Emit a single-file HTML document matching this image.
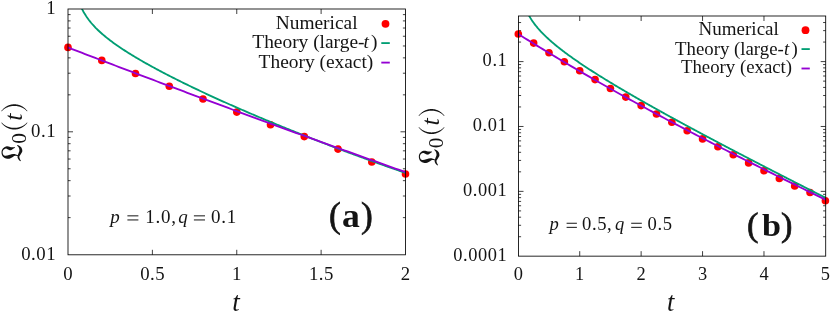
<!DOCTYPE html>
<html><head><meta charset="utf-8"><title>plot</title>
<style>
html,body{margin:0;padding:0;background:#fff;}
svg{display:block}
text{font-family:"Liberation Serif",serif;fill:#141414}
</style></head><body>
<svg width="830" height="313" viewBox="0 0 830 313" style="will-change:transform">
<rect width="830" height="313" fill="#fff"/>

<clipPath id="ca"><rect x="68.0" y="9.0" width="337.5" height="245.8"/></clipPath>
<path d="M152.38,254.8v-5M152.38,9.0v5M236.75,254.8v-5M236.75,9.0v5M321.12,254.8v-5M321.12,9.0v5M68.0,217.63h2.6M405.5,217.63h-2.6M68.0,196.01h2.6M405.5,196.01h-2.6M68.0,180.67h2.6M405.5,180.67h-2.6M68.0,168.77h2.6M405.5,168.77h-2.6M68.0,159.04h2.6M405.5,159.04h-2.6M68.0,150.82h2.6M405.5,150.82h-2.6M68.0,143.70h2.6M405.5,143.70h-2.6M68.0,137.42h2.6M405.5,137.42h-2.6M68.0,131.80h5M405.5,131.80h-5M68.0,94.83h2.6M405.5,94.83h-2.6M68.0,73.21h2.6M405.5,73.21h-2.6M68.0,57.87h2.6M405.5,57.87h-2.6M68.0,45.97h2.6M405.5,45.97h-2.6M68.0,36.24h2.6M405.5,36.24h-2.6M68.0,28.02h2.6M405.5,28.02h-2.6M68.0,20.90h2.6M405.5,20.90h-2.6M68.0,14.62h2.6M405.5,14.62h-2.6" stroke="#000" stroke-width="0.75" fill="none"/>

<g><circle cx="68" cy="47.4" r="3.8" fill="#ff0000"/><circle cx="101.8" cy="60.4" r="3.8" fill="#ff0000"/><circle cx="135.5" cy="73.5" r="3.8" fill="#ff0000"/><circle cx="169.3" cy="86.3" r="3.8" fill="#ff0000"/><circle cx="203" cy="99" r="3.8" fill="#ff0000"/><circle cx="236.8" cy="112.1" r="3.8" fill="#ff0000"/><circle cx="270.5" cy="124.7" r="3.8" fill="#ff0000"/><circle cx="304.3" cy="136.6" r="3.8" fill="#ff0000"/><circle cx="338" cy="149.1" r="3.8" fill="#ff0000"/><circle cx="371.8" cy="162.0" r="3.8" fill="#ff0000"/><circle cx="405.5" cy="174.0" r="3.8" fill="#ff0000"/></g>

<path clip-path="url(#ca)" d="M78.12,-0.81 L79.22,2.38 L80.31,5.17 L81.41,7.66 L82.50,9.90 L83.60,11.96 L84.69,13.85 L85.79,15.61 L86.88,17.25 L87.98,18.80 L89.07,20.27 L90.17,21.66 L91.26,22.99 L92.36,24.26 L93.45,25.48 L94.55,26.66 L95.64,27.80 L96.74,28.90 L97.83,29.97 L98.93,31.01 L100.02,32.02 L101.12,33.01 L102.21,33.97 L103.31,34.91 L104.40,35.83 L105.50,36.73 L106.59,37.62 L107.69,38.49 L108.78,39.34 L109.88,40.18 L110.97,41.01 L112.07,41.83 L113.16,42.63 L114.26,43.42 L115.35,44.21 L116.45,44.98 L117.54,45.74 L118.64,46.49 L119.73,47.24 L120.83,47.98 L121.92,48.71 L123.02,49.43 L124.11,50.14 L125.21,50.85 L126.30,51.55 L127.40,52.25 L128.49,52.94 L129.59,53.62 L130.68,54.30 L131.78,54.97 L132.87,55.64 L133.96,56.31 L135.06,56.96 L136.15,57.62 L137.25,58.27 L138.34,58.91 L139.44,59.55 L140.53,60.19 L141.63,60.82 L142.72,61.45 L143.82,62.08 L144.91,62.70 L146.01,63.32 L147.10,63.93 L148.20,64.55 L149.29,65.16 L150.39,65.76 L151.48,66.36 L152.58,66.96 L153.67,67.56 L154.77,68.16 L155.86,68.75 L156.96,69.34 L158.05,69.92 L159.15,70.51 L160.24,71.09 L161.34,71.67 L162.43,72.24 L163.53,72.82 L164.62,73.39 L165.72,73.96 L166.81,74.53 L167.91,75.09 L169.00,75.66 L170.10,76.22 L171.19,76.78 L172.29,77.33 L173.38,77.89 L174.48,78.44 L175.57,78.99 L176.67,79.54 L177.76,80.09 L178.86,80.64 L179.95,81.18 L181.05,81.73 L182.14,82.27 L183.24,82.81 L184.33,83.34 L185.43,83.88 L186.52,84.41 L187.61,84.95 L188.71,85.48 L189.80,86.01 L190.90,86.54 L191.99,87.07 L193.09,87.59 L194.18,88.12 L195.28,88.64 L196.37,89.16 L197.47,89.68 L198.56,90.20 L199.66,90.72 L200.75,91.23 L201.85,91.75 L202.94,92.26 L204.04,92.77 L205.13,93.28 L206.23,93.79 L207.32,94.30 L208.42,94.81 L209.51,95.32 L210.61,95.82 L211.70,96.32 L212.80,96.83 L213.89,97.33 L214.99,97.83 L216.08,98.33 L217.18,98.83 L218.27,99.32 L219.37,99.82 L220.46,100.31 L221.56,100.81 L222.65,101.30 L223.75,101.79 L224.84,102.28 L225.94,102.77 L227.03,103.26 L228.13,103.75 L229.22,104.23 L230.32,104.72 L231.41,105.21 L232.51,105.69 L233.60,106.17 L234.70,106.65 L235.79,107.13 L236.89,107.61 L237.98,108.09 L239.08,108.57 L240.17,109.05 L241.27,109.52 L242.36,110.00 L243.45,110.47 L244.55,110.95 L245.64,111.42 L246.74,111.89 L247.83,112.36 L248.93,112.83 L250.02,113.30 L251.12,113.77 L252.21,114.24 L253.31,114.70 L254.40,115.17 L255.50,115.63 L256.59,116.10 L257.69,116.56 L258.78,117.02 L259.88,117.49 L260.97,117.95 L262.07,118.41 L263.16,118.87 L264.26,119.32 L265.35,119.78 L266.45,120.24 L267.54,120.69 L268.64,121.15 L269.73,121.60 L270.83,122.06 L271.92,122.51 L273.02,122.96 L274.11,123.41 L275.21,123.86 L276.30,124.31 L277.40,124.76 L278.49,125.21 L279.59,125.66 L280.68,126.11 L281.78,126.55 L282.87,127.00 L283.97,127.44 L285.06,127.89 L286.16,128.33 L287.25,128.77 L288.35,129.22 L289.44,129.66 L290.54,130.10 L291.63,130.54 L292.73,130.98 L293.82,131.42 L294.92,131.85 L296.01,132.29 L297.10,132.73 L298.20,133.16 L299.29,133.60 L300.39,134.03 L301.48,134.47 L302.58,134.90 L303.67,135.33 L304.77,135.76 L305.86,136.19 L306.96,136.63 L308.05,137.06 L309.15,137.48 L310.24,137.91 L311.34,138.34 L312.43,138.77 L313.53,139.19 L314.62,139.62 L315.72,140.05 L316.81,140.47 L317.91,140.89 L319.00,141.32 L320.10,141.74 L321.19,142.16 L322.29,142.58 L323.38,143.00 L324.48,143.42 L325.57,143.84 L326.67,144.26 L327.76,144.68 L328.86,145.10 L329.95,145.52 L331.05,145.93 L332.14,146.35 L333.24,146.76 L334.33,147.18 L335.43,147.59 L336.52,148.01 L337.62,148.42 L338.71,148.83 L339.81,149.24 L340.90,149.65 L342.00,150.06 L343.09,150.47 L344.19,150.88 L345.28,151.29 L346.38,151.70 L347.47,152.11 L348.57,152.52 L349.66,152.92 L350.76,153.33 L351.85,153.73 L352.94,154.14 L354.04,154.54 L355.13,154.94 L356.23,155.35 L357.32,155.75 L358.42,156.15 L359.51,156.55 L360.61,156.95 L361.70,157.35 L362.80,157.75 L363.89,158.15 L364.99,158.55 L366.08,158.95 L367.18,159.35 L368.27,159.74 L369.37,160.14 L370.46,160.53 L371.56,160.93 L372.65,161.32 L373.75,161.72 L374.84,162.11 L375.94,162.50 L377.03,162.90 L378.13,163.29 L379.22,163.68 L380.32,164.07 L381.41,164.46 L382.51,164.85 L383.60,165.24 L384.70,165.63 L385.79,166.01 L386.89,166.40 L387.98,166.79 L389.08,167.17 L390.17,167.56 L391.27,167.94 L392.36,168.33 L393.46,168.71 L394.55,169.10 L395.65,169.48 L396.74,169.86 L397.84,170.24 L398.93,170.63 L400.03,171.01 L401.12,171.39 L402.22,171.77 L403.31,172.15 L404.41,172.52 L405.50,172.90" stroke="#009e73" stroke-width="1.85" fill="none" stroke-linejoin="round"/>

<path d="M68.00,47.48 L71.41,48.79 L74.82,50.10 L78.23,51.41 L81.64,52.72 L85.05,54.03 L88.45,55.34 L91.86,56.64 L95.27,57.95 L98.68,59.25 L102.09,60.56 L105.50,61.86 L108.91,63.16 L112.32,64.46 L115.73,65.76 L119.14,67.05 L122.55,68.35 L125.95,69.64 L129.36,70.94 L132.77,72.23 L136.18,73.52 L139.59,74.81 L143.00,76.10 L146.41,77.39 L149.82,78.68 L153.23,79.96 L156.64,81.25 L160.05,82.53 L163.45,83.82 L166.86,85.10 L170.27,86.38 L173.68,87.66 L177.09,88.94 L180.50,90.22 L183.91,91.49 L187.32,92.77 L190.73,94.04 L194.14,95.32 L197.55,96.59 L200.95,97.86 L204.36,99.13 L207.77,100.40 L211.18,101.67 L214.59,102.93 L218.00,104.20 L221.41,105.46 L224.82,106.73 L228.23,107.99 L231.64,109.25 L235.05,110.51 L238.45,111.77 L241.86,113.03 L245.27,114.28 L248.68,115.54 L252.09,116.80 L255.50,118.05 L258.91,119.30 L262.32,120.55 L265.73,121.80 L269.14,123.05 L272.55,124.30 L275.95,125.55 L279.36,126.79 L282.77,128.04 L286.18,129.28 L289.59,130.53 L293.00,131.77 L296.41,133.01 L299.82,134.25 L303.23,135.49 L306.64,136.72 L310.05,137.96 L313.45,139.20 L316.86,140.43 L320.27,141.66 L323.68,142.89 L327.09,144.13 L330.50,145.36 L333.91,146.58 L337.32,147.81 L340.73,149.04 L344.14,150.26 L347.55,151.49 L350.95,152.71 L354.36,153.93 L357.77,155.15 L361.18,156.37 L364.59,157.59 L368.00,158.81 L371.41,160.03 L374.82,161.24 L378.23,162.46 L381.64,163.67 L385.05,164.88 L388.45,166.09 L391.86,167.30 L395.27,168.51 L398.68,169.72 L402.09,170.93 L405.50,172.13" stroke="#9400d3" stroke-width="1.85" fill="none"/>

<rect x="68.0" y="9.0" width="337.5" height="245.8" fill="none" stroke="#000" stroke-width="0.85"/>

<g font-size="18.8" letter-spacing="0.5">
<text x="68.25" y="279.7" text-anchor="middle">0</text><text x="152.62" y="279.7" text-anchor="middle">0.5</text><text x="237.00" y="279.7" text-anchor="middle">1</text><text x="321.38" y="279.7" text-anchor="middle">1.5</text><text x="405.75" y="279.7" text-anchor="middle">2</text>
<text x="56.10" y="13.90" text-anchor="end">1</text><text x="56.10" y="136.80" text-anchor="end">0.1</text><text x="56.10" y="259.70" text-anchor="end">0.01</text>
</g>

<g font-size="19.4"><text x="275.7" y="28.7" font-size="19.4">Numerical</text><text x="252.3" y="47.8">Theory (large-</text><text x="363.6" y="47.8" font-style="italic">t</text><text x="371.0" y="47.8">)</text><text x="258.6" y="67.5">Theory (exact)</text></g>
<circle cx="385.5" cy="23.8" r="3.9" fill="#ff0000"/><path d="M381.3,43.1H389.8" stroke="#009e73" stroke-width="1.85"/><path d="M381.3,62.6H389.8" stroke="#9400d3" stroke-width="1.85"/>

<g font-size="19"><text x="110.3" y="223" font-style="italic">p</text><path d="M127.4,215.85H138.4M127.4,219.95H138.4" stroke="#141414" stroke-width="1.0" fill="none"/><text x="145.2" y="223" letter-spacing="0.8">1.0,</text><text x="178.2" y="223" font-style="italic">q</text><path d="M193.9,215.85H205.0M193.9,219.95H205.0" stroke="#141414" stroke-width="1.0" fill="none"/><text x="210.9" y="223" letter-spacing="0.8">0.1</text></g>

<g stroke="#141414" stroke-width="0.7" font-size="35.4"><text x="329.1" y="227.3">(</text><text x="360.9" y="227.3">)</text></g><text transform="translate(341.9,227) scale(1.05,1.0)" font-size="34" font-weight="bold">a</text>

<text x="232.2" y="311" font-size="27" font-style="italic">t</text>

<g transform="translate(23,161) rotate(-90) scale(1.0)" fill="#141414">
<path d="M13.89,-8.29 L13.88,-8.50 L13.88,-8.71 L13.88,-8.92 L13.87,-9.13 L13.87,-9.34 L13.87,-9.55 L13.86,-9.76 L13.86,-9.97 L13.86,-10.18 L13.86,-10.38 L13.86,-10.58 L13.86,-10.80 L13.84,-11.03 L13.81,-11.25 L13.78,-11.47 L13.76,-11.67 L13.74,-11.85 L13.74,-12.00 L13.74,-12.14 L13.77,-12.26 L13.80,-12.35 L13.84,-12.41 L13.89,-12.46 L13.95,-12.48 L13.93,-12.52 L13.94,-12.60 L13.96,-12.73 L14.00,-12.90 L14.05,-13.09 L14.13,-13.30 L14.21,-13.52 L14.29,-13.76 L14.38,-14.02 L14.46,-14.28 L14.54,-14.56 L14.60,-14.83 L14.61,-15.03 L14.62,-15.20 L14.63,-15.37 L14.64,-15.56 L14.65,-15.76 L14.66,-15.98 L14.66,-16.22 L14.64,-16.46 L14.60,-16.72 L14.55,-16.98 L14.46,-17.24 L14.36,-17.49 L14.25,-17.73 L14.12,-17.97 L13.98,-18.22 L13.83,-18.47 L13.67,-18.72 L13.49,-18.98 L13.31,-19.22 L13.11,-19.46 L12.90,-19.69 L12.69,-19.91 L12.46,-20.11 L12.23,-20.29 L12.00,-20.46 L11.77,-20.62 L11.53,-20.76 L11.28,-20.89 L11.03,-21.00 L10.77,-21.11 L10.50,-21.20 L10.24,-21.27 L9.96,-21.34 L9.69,-21.39 L9.42,-21.43 L9.15,-21.45 L8.86,-21.47 L8.57,-21.48 L8.27,-21.47 L7.97,-21.45 L7.67,-21.41 L7.36,-21.36 L7.06,-21.31 L6.77,-21.24 L6.49,-21.16 L6.22,-21.08 L5.96,-20.99 L5.71,-20.88 L5.47,-20.79 L5.24,-20.68 L5.02,-20.55 L4.81,-20.41 L4.61,-20.27 L4.42,-20.11 L4.24,-19.95 L4.08,-19.77 L3.92,-19.60 L3.78,-19.42 L3.64,-19.24 L3.51,-19.05 L3.36,-18.84 L3.22,-18.62 L3.09,-18.39 L2.98,-18.16 L2.87,-17.92 L2.78,-17.68 L2.69,-17.44 L2.61,-17.20 L2.54,-16.97 L2.47,-16.73 L2.41,-16.49 L2.35,-16.26 L2.32,-16.02 L2.29,-15.77 L2.28,-15.52 L2.26,-15.27 L2.26,-15.02 L2.26,-14.77 L2.27,-14.51 L2.29,-14.25 L2.31,-14.00 L2.34,-13.74 L2.37,-13.48 L2.42,-13.21 L2.53,-12.93 L2.65,-12.65 L2.77,-12.38 L2.91,-12.12 L3.04,-11.87 L3.17,-11.63 L3.30,-11.40 L3.43,-11.19 L3.55,-10.98 L3.66,-10.79 L3.76,-10.61 L3.85,-10.44 L3.97,-10.26 L4.09,-10.07 L4.21,-9.90 L4.33,-9.74 L4.43,-9.59 L4.54,-9.46 L4.63,-9.33 L4.72,-9.21 L4.80,-9.09 L4.88,-8.98 L4.95,-8.88 L5.01,-8.78 L5.05,-8.67 L5.09,-8.56 L5.12,-8.44 L5.15,-8.31 L5.17,-8.18 L5.18,-8.05 L5.19,-7.90 L5.20,-7.75 L5.21,-7.60 L5.21,-7.44 L5.21,-7.28 L5.21,-7.12 L5.19,-6.97 L5.17,-6.83 L5.15,-6.68 L5.13,-6.54 L5.10,-6.39 L5.07,-6.24 L5.03,-6.09 L5.00,-5.94 L4.97,-5.79 L4.93,-5.64 L4.90,-5.48 L4.87,-5.32 L5.73,-5.08 L5.79,-5.22 L5.84,-5.36 L5.90,-5.51 L5.96,-5.65 L6.01,-5.80 L6.07,-5.94 L6.13,-6.09 L6.19,-6.25 L6.24,-6.40 L6.29,-6.56 L6.34,-6.72 L6.39,-6.88 L6.45,-7.03 L6.51,-7.18 L6.58,-7.33 L6.64,-7.48 L6.71,-7.65 L6.77,-7.82 L6.82,-7.99 L6.88,-8.18 L6.92,-8.38 L6.96,-8.58 L6.98,-8.80 L6.99,-9.02 L7.00,-9.25 L7.00,-9.48 L6.99,-9.70 L6.98,-9.92 L6.95,-10.13 L6.93,-10.34 L6.90,-10.55 L6.87,-10.75 L6.84,-10.95 L6.81,-11.15 L6.78,-11.35 L6.75,-11.56 L6.68,-11.80 L6.60,-12.05 L6.52,-12.30 L6.44,-12.54 L6.36,-12.78 L6.28,-13.02 L6.20,-13.25 L6.14,-13.46 L6.08,-13.67 L6.04,-13.86 L6.00,-14.03 L5.98,-14.19 L5.92,-14.35 L5.85,-14.52 L5.79,-14.68 L5.74,-14.85 L5.68,-15.01 L5.64,-15.17 L5.60,-15.33 L5.56,-15.49 L5.52,-15.65 L5.49,-15.81 L5.47,-15.97 L5.45,-16.14 L5.41,-16.32 L5.38,-16.50 L5.35,-16.68 L5.32,-16.86 L5.30,-17.04 L5.28,-17.22 L5.27,-17.39 L5.27,-17.55 L5.26,-17.71 L5.27,-17.86 L5.28,-18.01 L5.29,-18.15 L5.34,-18.30 L5.39,-18.45 L5.45,-18.60 L5.51,-18.74 L5.58,-18.88 L5.65,-19.01 L5.73,-19.14 L5.82,-19.27 L5.92,-19.39 L6.03,-19.50 L6.15,-19.61 L6.29,-19.72 L6.46,-19.80 L6.65,-19.89 L6.87,-19.97 L7.10,-20.05 L7.35,-20.12 L7.60,-20.19 L7.86,-20.24 L8.11,-20.29 L8.36,-20.32 L8.61,-20.34 L8.84,-20.35 L9.05,-20.35 L9.27,-20.32 L9.48,-20.28 L9.69,-20.22 L9.91,-20.16 L10.11,-20.08 L10.32,-19.99 L10.52,-19.90 L10.71,-19.79 L10.89,-19.68 L11.07,-19.56 L11.23,-19.44 L11.37,-19.31 L11.50,-19.16 L11.62,-18.98 L11.74,-18.79 L11.85,-18.58 L11.97,-18.36 L12.07,-18.14 L12.17,-17.91 L12.25,-17.68 L12.32,-17.47 L12.38,-17.26 L12.42,-17.07 L12.44,-16.91 L12.44,-16.79 L12.41,-16.70 L12.38,-16.63 L12.34,-16.56 L12.30,-16.49 L12.25,-16.42 L12.19,-16.33 L12.13,-16.22 L12.05,-16.08 L11.97,-15.93 L11.88,-15.74 L11.80,-15.57 L11.75,-15.44 L11.68,-15.31 L11.60,-15.14 L11.50,-14.95 L11.39,-14.74 L11.27,-14.51 L11.15,-14.27 L11.03,-14.01 L10.91,-13.72 L10.81,-13.42 L10.72,-13.08 L10.65,-12.72 L10.70,-12.36 L10.78,-12.03 L10.89,-11.74 L11.00,-11.48 L11.13,-11.26 L11.26,-11.06 L11.39,-10.88 L11.51,-10.73 L11.63,-10.59 L11.74,-10.46 L11.85,-10.34 L11.94,-10.20 L12.05,-10.05 L12.16,-9.87 L12.28,-9.70 L12.39,-9.52 L12.51,-9.35 L12.62,-9.17 L12.74,-8.99 L12.85,-8.82 L12.97,-8.64 L13.08,-8.46 L13.20,-8.29 L13.31,-8.11Z M0.25,-2.09 L0.40,-2.17 L0.54,-2.26 L0.68,-2.35 L0.82,-2.44 L0.96,-2.52 L1.09,-2.61 L1.23,-2.69 L1.36,-2.76 L1.49,-2.83 L1.62,-2.90 L1.75,-2.95 L1.87,-3.01 L2.01,-3.07 L2.14,-3.13 L2.28,-3.19 L2.42,-3.25 L2.55,-3.30 L2.69,-3.35 L2.82,-3.39 L2.95,-3.43 L3.08,-3.47 L3.20,-3.49 L3.32,-3.52 L3.44,-3.53 L3.56,-3.56 L3.69,-3.59 L3.81,-3.61 L3.91,-3.63 L4.01,-3.64 L4.10,-3.65 L4.19,-3.65 L4.28,-3.65 L4.37,-3.64 L4.46,-3.63 L4.56,-3.61 L4.66,-3.58 L4.77,-3.53 L4.88,-3.46 L5.01,-3.39 L5.16,-3.30 L5.31,-3.19 L5.48,-3.08 L5.66,-2.96 L5.85,-2.84 L6.05,-2.71 L6.26,-2.57 L6.47,-2.44 L6.68,-2.32 L6.87,-2.20 L7.05,-2.08 L7.25,-1.95 L7.46,-1.80 L7.68,-1.65 L7.92,-1.50 L8.17,-1.35 L8.43,-1.20 L8.71,-1.06 L9.01,-0.93 L9.33,-0.81 L9.67,-0.72 L10.00,-0.70 L10.31,-0.70 L10.62,-0.71 L10.92,-0.75 L11.21,-0.80 L11.49,-0.86 L11.76,-0.93 L12.02,-1.01 L12.27,-1.10 L12.52,-1.19 L12.75,-1.29 L12.98,-1.39 L13.21,-1.53 L13.43,-1.69 L13.64,-1.85 L13.84,-2.01 L14.02,-2.18 L14.20,-2.36 L14.36,-2.53 L14.52,-2.71 L14.67,-2.89 L14.81,-3.07 L14.94,-3.25 L15.07,-3.44 L15.20,-3.64 L15.31,-3.84 L15.42,-4.04 L15.51,-4.24 L15.59,-4.43 L15.66,-4.63 L15.73,-4.82 L15.79,-5.01 L15.86,-5.19 L15.92,-5.38 L15.98,-5.55 L16.05,-5.73 L15.55,-6.07 L15.41,-5.93 L15.27,-5.78 L15.13,-5.63 L14.99,-5.49 L14.86,-5.35 L14.73,-5.21 L14.59,-5.08 L14.46,-4.95 L14.33,-4.84 L14.20,-4.74 L14.07,-4.65 L13.93,-4.56 L13.78,-4.47 L13.62,-4.38 L13.46,-4.29 L13.29,-4.21 L13.13,-4.13 L12.96,-4.06 L12.80,-3.99 L12.64,-3.94 L12.48,-3.89 L12.32,-3.85 L12.17,-3.83 L12.02,-3.81 L11.86,-3.77 L11.69,-3.72 L11.51,-3.69 L11.34,-3.66 L11.17,-3.63 L11.00,-3.62 L10.83,-3.61 L10.67,-3.61 L10.52,-3.61 L10.38,-3.63 L10.25,-3.65 L10.13,-3.68 L10.02,-3.68 L9.89,-3.69 L9.73,-3.72 L9.55,-3.77 L9.36,-3.83 L9.14,-3.91 L8.92,-4.00 L8.69,-4.09 L8.45,-4.19 L8.21,-4.30 L7.96,-4.40 L7.72,-4.48 L7.51,-4.56 L7.32,-4.63 L7.12,-4.71 L6.91,-4.80 L6.70,-4.89 L6.49,-4.98 L6.28,-5.07 L6.06,-5.16 L5.83,-5.24 L5.61,-5.31 L5.37,-5.37 L5.14,-5.42 L4.92,-5.46 L4.70,-5.49 L4.50,-5.51 L4.30,-5.51 L4.11,-5.51 L3.92,-5.49 L3.74,-5.46 L3.58,-5.43 L3.42,-5.39 L3.26,-5.35 L3.11,-5.31 L2.96,-5.27 L2.80,-5.20 L2.63,-5.13 L2.46,-5.05 L2.30,-4.97 L2.14,-4.88 L1.99,-4.79 L1.84,-4.69 L1.69,-4.60 L1.54,-4.50 L1.40,-4.40 L1.26,-4.30 L1.13,-4.19 L0.99,-4.07 L0.86,-3.95 L0.73,-3.82 L0.61,-3.70 L0.49,-3.57 L0.38,-3.44 L0.27,-3.32 L0.17,-3.19 L0.06,-3.07 L-0.04,-2.95 L-0.15,-2.83 L-0.25,-2.71Z"/>
<text x="17.2" y="3.4" font-size="21.5">0</text>
<path d="M38.24,-21.76 L38.01,-21.55 L37.79,-21.35 L37.56,-21.14 L37.32,-20.94 L37.09,-20.74 L36.86,-20.53 L36.62,-20.32 L36.39,-20.11 L36.16,-19.89 L35.94,-19.67 L35.72,-19.44 L35.51,-19.20 L35.31,-18.96 L35.11,-18.72 L34.91,-18.47 L34.72,-18.22 L34.53,-17.96 L34.34,-17.70 L34.16,-17.44 L33.99,-17.17 L33.82,-16.90 L33.65,-16.63 L33.49,-16.35 L33.34,-16.07 L33.19,-15.79 L33.05,-15.50 L32.92,-15.21 L32.79,-14.92 L32.66,-14.62 L32.54,-14.32 L32.43,-14.02 L32.32,-13.72 L32.21,-13.41 L32.11,-13.11 L32.02,-12.80 L31.94,-12.49 L31.86,-12.18 L31.80,-11.86 L31.74,-11.54 L31.68,-11.23 L31.63,-10.91 L31.59,-10.58 L31.55,-10.26 L31.52,-9.94 L31.49,-9.62 L31.47,-9.29 L31.46,-8.97 L31.45,-8.65 L31.46,-8.33 L31.47,-8.01 L31.49,-7.68 L31.52,-7.36 L31.55,-7.04 L31.59,-6.72 L31.63,-6.39 L31.68,-6.07 L31.74,-5.76 L31.80,-5.44 L31.86,-5.12 L31.94,-4.81 L32.02,-4.50 L32.11,-4.19 L32.21,-3.89 L32.32,-3.58 L32.43,-3.28 L32.54,-2.98 L32.66,-2.68 L32.79,-2.38 L32.92,-2.09 L33.05,-1.80 L33.19,-1.51 L33.34,-1.23 L33.49,-0.95 L33.65,-0.67 L33.82,-0.40 L33.99,-0.13 L34.16,0.14 L34.34,0.40 L34.53,0.66 L34.72,0.92 L34.91,1.17 L35.11,1.42 L35.31,1.66 L35.51,1.90 L35.72,2.14 L35.94,2.37 L36.16,2.59 L36.39,2.81 L36.62,3.02 L36.86,3.23 L37.09,3.44 L37.32,3.64 L37.56,3.84 L37.79,4.05 L38.01,4.25 L38.24,4.46 L38.56,4.14 L38.35,3.91 L38.14,3.68 L37.93,3.46 L37.72,3.23 L37.51,3.01 L37.30,2.78 L37.09,2.56 L36.89,2.33 L36.69,2.10 L36.50,1.87 L36.32,1.64 L36.15,1.40 L35.98,1.16 L35.82,0.90 L35.66,0.65 L35.51,0.39 L35.36,0.13 L35.22,-0.14 L35.08,-0.40 L34.95,-0.67 L34.82,-0.94 L34.69,-1.21 L34.58,-1.48 L34.47,-1.76 L34.35,-2.03 L34.25,-2.31 L34.15,-2.59 L34.05,-2.87 L33.96,-3.15 L33.88,-3.43 L33.80,-3.72 L33.72,-4.01 L33.65,-4.29 L33.59,-4.58 L33.53,-4.87 L33.48,-5.16 L33.42,-5.44 L33.37,-5.73 L33.32,-6.02 L33.28,-6.31 L33.25,-6.60 L33.22,-6.90 L33.19,-7.19 L33.17,-7.48 L33.16,-7.78 L33.15,-8.07 L33.15,-8.36 L33.15,-8.65 L33.15,-8.94 L33.15,-9.23 L33.16,-9.52 L33.17,-9.82 L33.19,-10.11 L33.22,-10.40 L33.25,-10.70 L33.28,-10.99 L33.32,-11.28 L33.37,-11.57 L33.42,-11.86 L33.48,-12.14 L33.53,-12.43 L33.59,-12.72 L33.65,-13.01 L33.72,-13.29 L33.80,-13.58 L33.88,-13.87 L33.96,-14.15 L34.05,-14.43 L34.15,-14.71 L34.25,-14.99 L34.35,-15.27 L34.47,-15.54 L34.58,-15.82 L34.69,-16.09 L34.82,-16.36 L34.95,-16.63 L35.08,-16.90 L35.22,-17.16 L35.36,-17.43 L35.51,-17.69 L35.66,-17.95 L35.82,-18.20 L35.98,-18.46 L36.15,-18.70 L36.32,-18.94 L36.50,-19.17 L36.69,-19.40 L36.89,-19.63 L37.09,-19.86 L37.30,-20.08 L37.51,-20.31 L37.72,-20.53 L37.93,-20.76 L38.14,-20.98 L38.35,-21.21 L38.56,-21.44Z"/>
<text x="40.2" y="-1.4" font-size="26" font-style="italic">t</text>
<path d="M49.64,-21.44 L49.85,-21.21 L50.06,-20.98 L50.27,-20.76 L50.48,-20.53 L50.69,-20.31 L50.90,-20.08 L51.11,-19.86 L51.31,-19.63 L51.51,-19.40 L51.70,-19.17 L51.88,-18.94 L52.05,-18.70 L52.22,-18.46 L52.38,-18.20 L52.54,-17.95 L52.69,-17.69 L52.84,-17.43 L52.98,-17.16 L53.12,-16.90 L53.25,-16.63 L53.38,-16.36 L53.51,-16.09 L53.62,-15.82 L53.73,-15.54 L53.85,-15.27 L53.95,-14.99 L54.05,-14.71 L54.15,-14.43 L54.24,-14.15 L54.32,-13.87 L54.40,-13.58 L54.48,-13.29 L54.55,-13.01 L54.61,-12.72 L54.67,-12.43 L54.72,-12.14 L54.78,-11.86 L54.83,-11.57 L54.88,-11.28 L54.92,-10.99 L54.95,-10.70 L54.98,-10.40 L55.01,-10.11 L55.03,-9.82 L55.04,-9.52 L55.05,-9.23 L55.05,-8.94 L55.05,-8.65 L55.05,-8.36 L55.05,-8.07 L55.04,-7.78 L55.03,-7.48 L55.01,-7.19 L54.98,-6.90 L54.95,-6.60 L54.92,-6.31 L54.88,-6.02 L54.83,-5.73 L54.78,-5.44 L54.72,-5.16 L54.67,-4.87 L54.61,-4.58 L54.55,-4.29 L54.48,-4.01 L54.40,-3.72 L54.32,-3.43 L54.24,-3.15 L54.15,-2.87 L54.05,-2.59 L53.95,-2.31 L53.85,-2.03 L53.73,-1.76 L53.62,-1.48 L53.51,-1.21 L53.38,-0.94 L53.25,-0.67 L53.12,-0.40 L52.98,-0.14 L52.84,0.13 L52.69,0.39 L52.54,0.65 L52.38,0.90 L52.22,1.16 L52.05,1.40 L51.88,1.64 L51.70,1.87 L51.51,2.10 L51.31,2.33 L51.11,2.56 L50.90,2.78 L50.69,3.01 L50.48,3.23 L50.27,3.46 L50.06,3.68 L49.85,3.91 L49.64,4.14 L49.96,4.46 L50.19,4.25 L50.41,4.05 L50.64,3.84 L50.88,3.64 L51.11,3.44 L51.34,3.23 L51.58,3.02 L51.81,2.81 L52.04,2.59 L52.26,2.37 L52.48,2.14 L52.69,1.90 L52.89,1.66 L53.09,1.42 L53.29,1.17 L53.48,0.92 L53.67,0.66 L53.86,0.40 L54.04,0.14 L54.21,-0.13 L54.38,-0.40 L54.55,-0.67 L54.71,-0.95 L54.86,-1.23 L55.01,-1.51 L55.15,-1.80 L55.28,-2.09 L55.41,-2.38 L55.54,-2.68 L55.66,-2.98 L55.77,-3.28 L55.88,-3.58 L55.99,-3.89 L56.09,-4.19 L56.18,-4.50 L56.26,-4.81 L56.34,-5.12 L56.40,-5.44 L56.46,-5.76 L56.52,-6.07 L56.57,-6.39 L56.61,-6.72 L56.65,-7.04 L56.68,-7.36 L56.71,-7.68 L56.73,-8.01 L56.74,-8.33 L56.75,-8.65 L56.74,-8.97 L56.73,-9.29 L56.71,-9.62 L56.68,-9.94 L56.65,-10.26 L56.61,-10.58 L56.57,-10.91 L56.52,-11.23 L56.46,-11.54 L56.40,-11.86 L56.34,-12.18 L56.26,-12.49 L56.18,-12.80 L56.09,-13.11 L55.99,-13.41 L55.88,-13.72 L55.77,-14.02 L55.66,-14.32 L55.54,-14.62 L55.41,-14.92 L55.28,-15.21 L55.15,-15.50 L55.01,-15.79 L54.86,-16.07 L54.71,-16.35 L54.55,-16.63 L54.38,-16.90 L54.21,-17.17 L54.04,-17.44 L53.86,-17.70 L53.67,-17.96 L53.48,-18.22 L53.29,-18.47 L53.09,-18.72 L52.89,-18.96 L52.69,-19.20 L52.48,-19.44 L52.26,-19.67 L52.04,-19.89 L51.81,-20.11 L51.58,-20.32 L51.34,-20.53 L51.11,-20.74 L50.88,-20.94 L50.64,-21.14 L50.41,-21.35 L50.19,-21.55 L49.96,-21.76Z"/>
</g>
<clipPath id="cb"><rect x="518.5" y="16.0" width="307.20000000000005" height="240.14999999999998"/></clipPath>
<path d="M579.72,256.15v-5M579.72,16.0v5M641.14,256.15v-5M641.14,16.0v5M702.56,256.15v-5M702.56,16.0v5M763.98,256.15v-5M763.98,16.0v5M518.5,236.72h2.6M825.7,236.72h-2.6M518.5,225.29h2.6M825.7,225.29h-2.6M518.5,217.19h2.6M825.7,217.19h-2.6M518.5,210.90h2.6M825.7,210.90h-2.6M518.5,205.76h2.6M825.7,205.76h-2.6M518.5,201.42h2.6M825.7,201.42h-2.6M518.5,197.65h2.6M825.7,197.65h-2.6M518.5,194.34h2.6M825.7,194.34h-2.6M518.5,191.37h5M825.7,191.37h-5M518.5,171.84h2.6M825.7,171.84h-2.6M518.5,160.41h2.6M825.7,160.41h-2.6M518.5,152.30h2.6M825.7,152.30h-2.6M518.5,146.02h2.6M825.7,146.02h-2.6M518.5,140.88h2.6M825.7,140.88h-2.6M518.5,136.53h2.6M825.7,136.53h-2.6M518.5,132.77h2.6M825.7,132.77h-2.6M518.5,129.45h2.6M825.7,129.45h-2.6M518.5,126.48h5M825.7,126.48h-5M518.5,106.95h2.6M825.7,106.95h-2.6M518.5,95.53h2.6M825.7,95.53h-2.6M518.5,87.42h2.6M825.7,87.42h-2.6M518.5,81.13h2.6M825.7,81.13h-2.6M518.5,76.00h2.6M825.7,76.00h-2.6M518.5,71.65h2.6M825.7,71.65h-2.6M518.5,67.89h2.6M825.7,67.89h-2.6M518.5,64.57h2.6M825.7,64.57h-2.6M518.5,61.60h5M825.7,61.60h-5M518.5,42.07h2.6M825.7,42.07h-2.6M518.5,30.64h2.6M825.7,30.64h-2.6M518.5,22.54h2.6M825.7,22.54h-2.6" stroke="#000" stroke-width="0.75" fill="none"/>

<g><circle cx="518.30" cy="34.00" r="3.8" fill="#ff0000"/><circle cx="533.65" cy="43.10" r="3.8" fill="#ff0000"/><circle cx="549.01" cy="52.70" r="3.8" fill="#ff0000"/><circle cx="564.37" cy="61.80" r="3.8" fill="#ff0000"/><circle cx="579.72" cy="70.80" r="3.8" fill="#ff0000"/><circle cx="595.07" cy="79.60" r="3.8" fill="#ff0000"/><circle cx="610.43" cy="88.50" r="3.8" fill="#ff0000"/><circle cx="625.78" cy="97.10" r="3.8" fill="#ff0000"/><circle cx="641.14" cy="105.60" r="3.8" fill="#ff0000"/><circle cx="656.49" cy="114.00" r="3.8" fill="#ff0000"/><circle cx="671.85" cy="122.30" r="3.8" fill="#ff0000"/><circle cx="687.20" cy="130.70" r="3.8" fill="#ff0000"/><circle cx="702.56" cy="138.90" r="3.8" fill="#ff0000"/><circle cx="717.91" cy="146.80" r="3.8" fill="#ff0000"/><circle cx="733.27" cy="154.80" r="3.8" fill="#ff0000"/><circle cx="748.62" cy="162.90" r="3.8" fill="#ff0000"/><circle cx="763.98" cy="170.80" r="3.8" fill="#ff0000"/><circle cx="779.34" cy="178.50" r="3.8" fill="#ff0000"/><circle cx="794.69" cy="186.00" r="3.8" fill="#ff0000"/><circle cx="810.04" cy="192.50" r="3.8" fill="#ff0000"/><circle cx="825.40" cy="200.70" r="3.8" fill="#ff0000"/></g>

<path clip-path="url(#cb)" d="M523.21,1.05 L523.97,3.69 L524.73,5.99 L525.49,8.05 L526.24,9.91 L527.00,11.61 L527.76,13.19 L528.52,14.67 L529.27,16.05 L530.03,17.36 L530.79,18.61 L531.54,19.80 L532.30,20.93 L533.06,22.02 L533.82,23.08 L534.57,24.09 L535.33,25.08 L536.09,26.03 L536.85,26.96 L537.60,27.87 L538.36,28.75 L539.12,29.61 L539.88,30.45 L540.63,31.27 L541.39,32.08 L542.15,32.87 L542.90,33.65 L543.66,34.41 L544.42,35.16 L545.18,35.90 L545.93,36.63 L546.69,37.34 L547.45,38.05 L548.21,38.75 L548.96,39.44 L549.72,40.12 L550.48,40.79 L551.24,41.45 L551.99,42.11 L552.75,42.76 L553.51,43.40 L554.27,44.04 L555.02,44.67 L555.78,45.29 L556.54,45.91 L557.29,46.52 L558.05,47.13 L558.81,47.74 L559.57,48.33 L560.32,48.93 L561.08,49.52 L561.84,50.10 L562.60,50.68 L563.35,51.26 L564.11,51.83 L564.87,52.40 L565.63,52.97 L566.38,53.53 L567.14,54.09 L567.90,54.64 L568.66,55.19 L569.41,55.74 L570.17,56.29 L570.93,56.83 L571.68,57.37 L572.44,57.91 L573.20,58.44 L573.96,58.98 L574.71,59.51 L575.47,60.03 L576.23,60.56 L576.99,61.08 L577.74,61.60 L578.50,62.12 L579.26,62.64 L580.02,63.15 L580.77,63.66 L581.53,64.17 L582.29,64.68 L583.04,65.19 L583.80,65.69 L584.56,66.19 L585.32,66.69 L586.07,67.19 L586.83,67.69 L587.59,68.18 L588.35,68.68 L589.10,69.17 L589.86,69.66 L590.62,70.15 L591.38,70.64 L592.13,71.13 L592.89,71.61 L593.65,72.10 L594.41,72.58 L595.16,73.06 L595.92,73.54 L596.68,74.02 L597.43,74.49 L598.19,74.97 L598.95,75.44 L599.71,75.92 L600.46,76.39 L601.22,76.86 L601.98,77.33 L602.74,77.80 L603.49,78.27 L604.25,78.74 L605.01,79.20 L605.77,79.67 L606.52,80.13 L607.28,80.59 L608.04,81.06 L608.80,81.52 L609.55,81.98 L610.31,82.44 L611.07,82.89 L611.82,83.35 L612.58,83.81 L613.34,84.26 L614.10,84.72 L614.85,85.17 L615.61,85.63 L616.37,86.08 L617.13,86.53 L617.88,86.98 L618.64,87.43 L619.40,87.88 L620.16,88.33 L620.91,88.78 L621.67,89.22 L622.43,89.67 L623.19,90.11 L623.94,90.56 L624.70,91.00 L625.46,91.45 L626.21,91.89 L626.97,92.33 L627.73,92.77 L628.49,93.21 L629.24,93.65 L630.00,94.09 L630.76,94.53 L631.52,94.97 L632.27,95.41 L633.03,95.85 L633.79,96.28 L634.55,96.72 L635.30,97.16 L636.06,97.59 L636.82,98.02 L637.57,98.46 L638.33,98.89 L639.09,99.32 L639.85,99.76 L640.60,100.19 L641.36,100.62 L642.12,101.05 L642.88,101.48 L643.63,101.91 L644.39,102.34 L645.15,102.77 L645.91,103.20 L646.66,103.63 L647.42,104.05 L648.18,104.48 L648.94,104.91 L649.69,105.33 L650.45,105.76 L651.21,106.18 L651.96,106.61 L652.72,107.03 L653.48,107.46 L654.24,107.88 L654.99,108.30 L655.75,108.73 L656.51,109.15 L657.27,109.57 L658.02,109.99 L658.78,110.41 L659.54,110.83 L660.30,111.25 L661.05,111.67 L661.81,112.09 L662.57,112.51 L663.33,112.93 L664.08,113.35 L664.84,113.77 L665.60,114.19 L666.35,114.60 L667.11,115.02 L667.87,115.44 L668.63,115.85 L669.38,116.27 L670.14,116.69 L670.90,117.10 L671.66,117.52 L672.41,117.93 L673.17,118.35 L673.93,118.76 L674.69,119.17 L675.44,119.59 L676.20,120.00 L676.96,120.41 L677.71,120.83 L678.47,121.24 L679.23,121.65 L679.99,122.06 L680.74,122.47 L681.50,122.89 L682.26,123.30 L683.02,123.71 L683.77,124.12 L684.53,124.53 L685.29,124.94 L686.05,125.35 L686.80,125.76 L687.56,126.17 L688.32,126.57 L689.08,126.98 L689.83,127.39 L690.59,127.80 L691.35,128.21 L692.10,128.61 L692.86,129.02 L693.62,129.43 L694.38,129.83 L695.13,130.24 L695.89,130.65 L696.65,131.05 L697.41,131.46 L698.16,131.86 L698.92,132.27 L699.68,132.67 L700.44,133.08 L701.19,133.48 L701.95,133.89 L702.71,134.29 L703.47,134.70 L704.22,135.10 L704.98,135.50 L705.74,135.91 L706.49,136.31 L707.25,136.71 L708.01,137.11 L708.77,137.52 L709.52,137.92 L710.28,138.32 L711.04,138.72 L711.80,139.12 L712.55,139.53 L713.31,139.93 L714.07,140.33 L714.83,140.73 L715.58,141.13 L716.34,141.53 L717.10,141.93 L717.85,142.33 L718.61,142.73 L719.37,143.13 L720.13,143.53 L720.88,143.93 L721.64,144.33 L722.40,144.73 L723.16,145.12 L723.91,145.52 L724.67,145.92 L725.43,146.32 L726.19,146.72 L726.94,147.12 L727.70,147.51 L728.46,147.91 L729.22,148.31 L729.97,148.71 L730.73,149.10 L731.49,149.50 L732.24,149.90 L733.00,150.29 L733.76,150.69 L734.52,151.08 L735.27,151.48 L736.03,151.88 L736.79,152.27 L737.55,152.67 L738.30,153.06 L739.06,153.46 L739.82,153.85 L740.58,154.25 L741.33,154.64 L742.09,155.04 L742.85,155.43 L743.61,155.83 L744.36,156.22 L745.12,156.61 L745.88,157.01 L746.63,157.40 L747.39,157.79 L748.15,158.19 L748.91,158.58 L749.66,158.97 L750.42,159.37 L751.18,159.76 L751.94,160.15 L752.69,160.55 L753.45,160.94 L754.21,161.33 L754.97,161.72 L755.72,162.11 L756.48,162.51 L757.24,162.90 L758.00,163.29 L758.75,163.68 L759.51,164.07 L760.27,164.46 L761.02,164.85 L761.78,165.25 L762.54,165.64 L763.30,166.03 L764.05,166.42 L764.81,166.81 L765.57,167.20 L766.33,167.59 L767.08,167.98 L767.84,168.37 L768.60,168.76 L769.36,169.15 L770.11,169.54 L770.87,169.93 L771.63,170.32 L772.38,170.71 L773.14,171.10 L773.90,171.48 L774.66,171.87 L775.41,172.26 L776.17,172.65 L776.93,173.04 L777.69,173.43 L778.44,173.82 L779.20,174.20 L779.96,174.59 L780.72,174.98 L781.47,175.37 L782.23,175.76 L782.99,176.14 L783.75,176.53 L784.50,176.92 L785.26,177.31 L786.02,177.69 L786.77,178.08 L787.53,178.47 L788.29,178.85 L789.05,179.24 L789.80,179.63 L790.56,180.01 L791.32,180.40 L792.08,180.79 L792.83,181.17 L793.59,181.56 L794.35,181.95 L795.11,182.33 L795.86,182.72 L796.62,183.10 L797.38,183.49 L798.14,183.88 L798.89,184.26 L799.65,184.65 L800.41,185.03 L801.16,185.42 L801.92,185.80 L802.68,186.19 L803.44,186.57 L804.19,186.96 L804.95,187.34 L805.71,187.73 L806.47,188.11 L807.22,188.50 L807.98,188.88 L808.74,189.26 L809.50,189.65 L810.25,190.03 L811.01,190.42 L811.77,190.80 L812.52,191.18 L813.28,191.57 L814.04,191.95 L814.80,192.34 L815.55,192.72 L816.31,193.10 L817.07,193.49 L817.83,193.87 L818.58,194.25 L819.34,194.64 L820.10,195.02 L820.86,195.40 L821.61,195.79 L822.37,196.17 L823.13,196.55 L823.89,196.93 L824.64,197.32 L825.40,197.70" stroke="#009e73" stroke-width="1.85" fill="none" stroke-linejoin="round"/>

<path d="M518.30,34.05 L521.40,35.99 L524.50,37.93 L527.61,39.86 L530.71,41.79 L533.81,43.70 L536.91,45.61 L540.01,47.51 L543.12,49.40 L546.22,51.28 L549.32,53.16 L552.42,55.03 L555.52,56.89 L558.63,58.75 L561.73,60.60 L564.83,62.44 L567.93,64.27 L571.03,66.10 L574.14,67.91 L577.24,69.73 L580.34,71.53 L583.44,73.33 L586.54,75.13 L589.65,76.91 L592.75,78.69 L595.85,80.47 L598.95,82.23 L602.05,83.99 L605.16,85.75 L608.26,87.50 L611.36,89.24 L614.46,90.98 L617.56,92.71 L620.67,94.44 L623.77,96.16 L626.87,97.87 L629.97,99.58 L633.07,101.28 L636.18,102.98 L639.28,104.68 L642.38,106.36 L645.48,108.05 L648.58,109.73 L651.69,111.40 L654.79,113.07 L657.89,114.73 L660.99,116.39 L664.09,118.05 L667.20,119.70 L670.30,121.34 L673.40,122.98 L676.50,124.62 L679.61,126.25 L682.71,127.88 L685.81,129.50 L688.91,131.13 L692.01,132.74 L695.12,134.35 L698.22,135.96 L701.32,137.57 L704.42,139.17 L707.52,140.77 L710.63,142.37 L713.73,143.96 L716.83,145.55 L719.93,147.13 L723.03,148.71 L726.14,150.29 L729.24,151.87 L732.34,153.44 L735.44,155.01 L738.54,156.58 L741.65,158.15 L744.75,159.71 L747.85,161.27 L750.95,162.83 L754.05,164.38 L757.16,165.94 L760.26,167.49 L763.36,169.04 L766.46,170.59 L769.56,172.13 L772.67,173.67 L775.77,175.22 L778.87,176.76 L781.97,178.30 L785.07,179.83 L788.18,181.37 L791.28,182.90 L794.38,184.44 L797.48,185.97 L800.58,187.50 L803.69,189.03 L806.79,190.56 L809.89,192.09 L812.99,193.61 L816.09,195.14 L819.20,196.66 L822.30,198.19 L825.40,199.71" stroke="#9400d3" stroke-width="1.85" fill="none"/>

<rect x="518.5" y="16.0" width="307.20000000000005" height="240.14999999999998" fill="none" stroke="#000" stroke-width="0.85"/>

<g font-size="18.4" letter-spacing="0.6">
<text x="518.60" y="279.9" text-anchor="middle">0</text><text x="580.02" y="279.9" text-anchor="middle">1</text><text x="641.44" y="279.9" text-anchor="middle">2</text><text x="702.86" y="279.9" text-anchor="middle">3</text><text x="764.28" y="279.9" text-anchor="middle">4</text><text x="825.70" y="279.9" text-anchor="middle">5</text>
<text x="507.40" y="66.40" text-anchor="end">0.1</text><text x="507.40" y="131.28" text-anchor="end">0.01</text><text x="507.40" y="196.17" text-anchor="end">0.001</text><text x="507.40" y="261.05" text-anchor="end">0.0001</text>
</g>

<g font-size="18.8"><text x="698.6" y="34.6" font-size="19.0">Numerical</text><text x="675.1" y="54.5">Theory (large-</text><text x="784.0" y="54.5" font-style="italic">t</text><text x="791.5" y="54.5">)</text><text x="681.0" y="73.3">Theory (exact)</text></g>
<circle cx="805.5" cy="30.2" r="3.9" fill="#ff0000"/><path d="M801.5,49.1H809.8" stroke="#009e73" stroke-width="1.85"/><path d="M801.5,68.5H809.8" stroke="#9400d3" stroke-width="1.85"/>

<g font-size="18.6"><text x="549.6" y="230.3" font-style="italic">p</text><path d="M566.6,223.25H576.9M566.6,227.35H576.9" stroke="#141414" stroke-width="1.0" fill="none"/><text x="582.0" y="230.3" letter-spacing="0.6">0.5,</text><text x="614.9" y="230.3" font-style="italic">q</text><path d="M631.2,223.25H641.8M631.2,227.35H641.8" stroke="#141414" stroke-width="1.0" fill="none"/><text x="647.6" y="230.3" letter-spacing="0.6">0.5</text></g>

<g stroke="#141414" stroke-width="0.7" font-size="34.5"><text x="747.1" y="235.8">(</text><text x="780.9" y="235.8">)</text></g><text transform="translate(762.1,235.5) scale(1.03,0.95)" font-size="33.2" font-weight="bold">b</text>

<text x="666.9" y="311.2" font-size="26.4" font-style="italic">t</text>

<g transform="translate(440.1,165.2) rotate(-90) scale(0.99)" fill="#141414">
<path d="M13.89,-8.29 L13.88,-8.50 L13.88,-8.71 L13.88,-8.92 L13.87,-9.13 L13.87,-9.34 L13.87,-9.55 L13.86,-9.76 L13.86,-9.97 L13.86,-10.18 L13.86,-10.38 L13.86,-10.58 L13.86,-10.80 L13.84,-11.03 L13.81,-11.25 L13.78,-11.47 L13.76,-11.67 L13.74,-11.85 L13.74,-12.00 L13.74,-12.14 L13.77,-12.26 L13.80,-12.35 L13.84,-12.41 L13.89,-12.46 L13.95,-12.48 L13.93,-12.52 L13.94,-12.60 L13.96,-12.73 L14.00,-12.90 L14.05,-13.09 L14.13,-13.30 L14.21,-13.52 L14.29,-13.76 L14.38,-14.02 L14.46,-14.28 L14.54,-14.56 L14.60,-14.83 L14.61,-15.03 L14.62,-15.20 L14.63,-15.37 L14.64,-15.56 L14.65,-15.76 L14.66,-15.98 L14.66,-16.22 L14.64,-16.46 L14.60,-16.72 L14.55,-16.98 L14.46,-17.24 L14.36,-17.49 L14.25,-17.73 L14.12,-17.97 L13.98,-18.22 L13.83,-18.47 L13.67,-18.72 L13.49,-18.98 L13.31,-19.22 L13.11,-19.46 L12.90,-19.69 L12.69,-19.91 L12.46,-20.11 L12.23,-20.29 L12.00,-20.46 L11.77,-20.62 L11.53,-20.76 L11.28,-20.89 L11.03,-21.00 L10.77,-21.11 L10.50,-21.20 L10.24,-21.27 L9.96,-21.34 L9.69,-21.39 L9.42,-21.43 L9.15,-21.45 L8.86,-21.47 L8.57,-21.48 L8.27,-21.47 L7.97,-21.45 L7.67,-21.41 L7.36,-21.36 L7.06,-21.31 L6.77,-21.24 L6.49,-21.16 L6.22,-21.08 L5.96,-20.99 L5.71,-20.88 L5.47,-20.79 L5.24,-20.68 L5.02,-20.55 L4.81,-20.41 L4.61,-20.27 L4.42,-20.11 L4.24,-19.95 L4.08,-19.77 L3.92,-19.60 L3.78,-19.42 L3.64,-19.24 L3.51,-19.05 L3.36,-18.84 L3.22,-18.62 L3.09,-18.39 L2.98,-18.16 L2.87,-17.92 L2.78,-17.68 L2.69,-17.44 L2.61,-17.20 L2.54,-16.97 L2.47,-16.73 L2.41,-16.49 L2.35,-16.26 L2.32,-16.02 L2.29,-15.77 L2.28,-15.52 L2.26,-15.27 L2.26,-15.02 L2.26,-14.77 L2.27,-14.51 L2.29,-14.25 L2.31,-14.00 L2.34,-13.74 L2.37,-13.48 L2.42,-13.21 L2.53,-12.93 L2.65,-12.65 L2.77,-12.38 L2.91,-12.12 L3.04,-11.87 L3.17,-11.63 L3.30,-11.40 L3.43,-11.19 L3.55,-10.98 L3.66,-10.79 L3.76,-10.61 L3.85,-10.44 L3.97,-10.26 L4.09,-10.07 L4.21,-9.90 L4.33,-9.74 L4.43,-9.59 L4.54,-9.46 L4.63,-9.33 L4.72,-9.21 L4.80,-9.09 L4.88,-8.98 L4.95,-8.88 L5.01,-8.78 L5.05,-8.67 L5.09,-8.56 L5.12,-8.44 L5.15,-8.31 L5.17,-8.18 L5.18,-8.05 L5.19,-7.90 L5.20,-7.75 L5.21,-7.60 L5.21,-7.44 L5.21,-7.28 L5.21,-7.12 L5.19,-6.97 L5.17,-6.83 L5.15,-6.68 L5.13,-6.54 L5.10,-6.39 L5.07,-6.24 L5.03,-6.09 L5.00,-5.94 L4.97,-5.79 L4.93,-5.64 L4.90,-5.48 L4.87,-5.32 L5.73,-5.08 L5.79,-5.22 L5.84,-5.36 L5.90,-5.51 L5.96,-5.65 L6.01,-5.80 L6.07,-5.94 L6.13,-6.09 L6.19,-6.25 L6.24,-6.40 L6.29,-6.56 L6.34,-6.72 L6.39,-6.88 L6.45,-7.03 L6.51,-7.18 L6.58,-7.33 L6.64,-7.48 L6.71,-7.65 L6.77,-7.82 L6.82,-7.99 L6.88,-8.18 L6.92,-8.38 L6.96,-8.58 L6.98,-8.80 L6.99,-9.02 L7.00,-9.25 L7.00,-9.48 L6.99,-9.70 L6.98,-9.92 L6.95,-10.13 L6.93,-10.34 L6.90,-10.55 L6.87,-10.75 L6.84,-10.95 L6.81,-11.15 L6.78,-11.35 L6.75,-11.56 L6.68,-11.80 L6.60,-12.05 L6.52,-12.30 L6.44,-12.54 L6.36,-12.78 L6.28,-13.02 L6.20,-13.25 L6.14,-13.46 L6.08,-13.67 L6.04,-13.86 L6.00,-14.03 L5.98,-14.19 L5.92,-14.35 L5.85,-14.52 L5.79,-14.68 L5.74,-14.85 L5.68,-15.01 L5.64,-15.17 L5.60,-15.33 L5.56,-15.49 L5.52,-15.65 L5.49,-15.81 L5.47,-15.97 L5.45,-16.14 L5.41,-16.32 L5.38,-16.50 L5.35,-16.68 L5.32,-16.86 L5.30,-17.04 L5.28,-17.22 L5.27,-17.39 L5.27,-17.55 L5.26,-17.71 L5.27,-17.86 L5.28,-18.01 L5.29,-18.15 L5.34,-18.30 L5.39,-18.45 L5.45,-18.60 L5.51,-18.74 L5.58,-18.88 L5.65,-19.01 L5.73,-19.14 L5.82,-19.27 L5.92,-19.39 L6.03,-19.50 L6.15,-19.61 L6.29,-19.72 L6.46,-19.80 L6.65,-19.89 L6.87,-19.97 L7.10,-20.05 L7.35,-20.12 L7.60,-20.19 L7.86,-20.24 L8.11,-20.29 L8.36,-20.32 L8.61,-20.34 L8.84,-20.35 L9.05,-20.35 L9.27,-20.32 L9.48,-20.28 L9.69,-20.22 L9.91,-20.16 L10.11,-20.08 L10.32,-19.99 L10.52,-19.90 L10.71,-19.79 L10.89,-19.68 L11.07,-19.56 L11.23,-19.44 L11.37,-19.31 L11.50,-19.16 L11.62,-18.98 L11.74,-18.79 L11.85,-18.58 L11.97,-18.36 L12.07,-18.14 L12.17,-17.91 L12.25,-17.68 L12.32,-17.47 L12.38,-17.26 L12.42,-17.07 L12.44,-16.91 L12.44,-16.79 L12.41,-16.70 L12.38,-16.63 L12.34,-16.56 L12.30,-16.49 L12.25,-16.42 L12.19,-16.33 L12.13,-16.22 L12.05,-16.08 L11.97,-15.93 L11.88,-15.74 L11.80,-15.57 L11.75,-15.44 L11.68,-15.31 L11.60,-15.14 L11.50,-14.95 L11.39,-14.74 L11.27,-14.51 L11.15,-14.27 L11.03,-14.01 L10.91,-13.72 L10.81,-13.42 L10.72,-13.08 L10.65,-12.72 L10.70,-12.36 L10.78,-12.03 L10.89,-11.74 L11.00,-11.48 L11.13,-11.26 L11.26,-11.06 L11.39,-10.88 L11.51,-10.73 L11.63,-10.59 L11.74,-10.46 L11.85,-10.34 L11.94,-10.20 L12.05,-10.05 L12.16,-9.87 L12.28,-9.70 L12.39,-9.52 L12.51,-9.35 L12.62,-9.17 L12.74,-8.99 L12.85,-8.82 L12.97,-8.64 L13.08,-8.46 L13.20,-8.29 L13.31,-8.11Z M0.25,-2.09 L0.40,-2.17 L0.54,-2.26 L0.68,-2.35 L0.82,-2.44 L0.96,-2.52 L1.09,-2.61 L1.23,-2.69 L1.36,-2.76 L1.49,-2.83 L1.62,-2.90 L1.75,-2.95 L1.87,-3.01 L2.01,-3.07 L2.14,-3.13 L2.28,-3.19 L2.42,-3.25 L2.55,-3.30 L2.69,-3.35 L2.82,-3.39 L2.95,-3.43 L3.08,-3.47 L3.20,-3.49 L3.32,-3.52 L3.44,-3.53 L3.56,-3.56 L3.69,-3.59 L3.81,-3.61 L3.91,-3.63 L4.01,-3.64 L4.10,-3.65 L4.19,-3.65 L4.28,-3.65 L4.37,-3.64 L4.46,-3.63 L4.56,-3.61 L4.66,-3.58 L4.77,-3.53 L4.88,-3.46 L5.01,-3.39 L5.16,-3.30 L5.31,-3.19 L5.48,-3.08 L5.66,-2.96 L5.85,-2.84 L6.05,-2.71 L6.26,-2.57 L6.47,-2.44 L6.68,-2.32 L6.87,-2.20 L7.05,-2.08 L7.25,-1.95 L7.46,-1.80 L7.68,-1.65 L7.92,-1.50 L8.17,-1.35 L8.43,-1.20 L8.71,-1.06 L9.01,-0.93 L9.33,-0.81 L9.67,-0.72 L10.00,-0.70 L10.31,-0.70 L10.62,-0.71 L10.92,-0.75 L11.21,-0.80 L11.49,-0.86 L11.76,-0.93 L12.02,-1.01 L12.27,-1.10 L12.52,-1.19 L12.75,-1.29 L12.98,-1.39 L13.21,-1.53 L13.43,-1.69 L13.64,-1.85 L13.84,-2.01 L14.02,-2.18 L14.20,-2.36 L14.36,-2.53 L14.52,-2.71 L14.67,-2.89 L14.81,-3.07 L14.94,-3.25 L15.07,-3.44 L15.20,-3.64 L15.31,-3.84 L15.42,-4.04 L15.51,-4.24 L15.59,-4.43 L15.66,-4.63 L15.73,-4.82 L15.79,-5.01 L15.86,-5.19 L15.92,-5.38 L15.98,-5.55 L16.05,-5.73 L15.55,-6.07 L15.41,-5.93 L15.27,-5.78 L15.13,-5.63 L14.99,-5.49 L14.86,-5.35 L14.73,-5.21 L14.59,-5.08 L14.46,-4.95 L14.33,-4.84 L14.20,-4.74 L14.07,-4.65 L13.93,-4.56 L13.78,-4.47 L13.62,-4.38 L13.46,-4.29 L13.29,-4.21 L13.13,-4.13 L12.96,-4.06 L12.80,-3.99 L12.64,-3.94 L12.48,-3.89 L12.32,-3.85 L12.17,-3.83 L12.02,-3.81 L11.86,-3.77 L11.69,-3.72 L11.51,-3.69 L11.34,-3.66 L11.17,-3.63 L11.00,-3.62 L10.83,-3.61 L10.67,-3.61 L10.52,-3.61 L10.38,-3.63 L10.25,-3.65 L10.13,-3.68 L10.02,-3.68 L9.89,-3.69 L9.73,-3.72 L9.55,-3.77 L9.36,-3.83 L9.14,-3.91 L8.92,-4.00 L8.69,-4.09 L8.45,-4.19 L8.21,-4.30 L7.96,-4.40 L7.72,-4.48 L7.51,-4.56 L7.32,-4.63 L7.12,-4.71 L6.91,-4.80 L6.70,-4.89 L6.49,-4.98 L6.28,-5.07 L6.06,-5.16 L5.83,-5.24 L5.61,-5.31 L5.37,-5.37 L5.14,-5.42 L4.92,-5.46 L4.70,-5.49 L4.50,-5.51 L4.30,-5.51 L4.11,-5.51 L3.92,-5.49 L3.74,-5.46 L3.58,-5.43 L3.42,-5.39 L3.26,-5.35 L3.11,-5.31 L2.96,-5.27 L2.80,-5.20 L2.63,-5.13 L2.46,-5.05 L2.30,-4.97 L2.14,-4.88 L1.99,-4.79 L1.84,-4.69 L1.69,-4.60 L1.54,-4.50 L1.40,-4.40 L1.26,-4.30 L1.13,-4.19 L0.99,-4.07 L0.86,-3.95 L0.73,-3.82 L0.61,-3.70 L0.49,-3.57 L0.38,-3.44 L0.27,-3.32 L0.17,-3.19 L0.06,-3.07 L-0.04,-2.95 L-0.15,-2.83 L-0.25,-2.71Z"/>
<text x="17.2" y="3.4" font-size="21.5">0</text>
<path d="M38.24,-21.76 L38.01,-21.55 L37.79,-21.35 L37.56,-21.14 L37.32,-20.94 L37.09,-20.74 L36.86,-20.53 L36.62,-20.32 L36.39,-20.11 L36.16,-19.89 L35.94,-19.67 L35.72,-19.44 L35.51,-19.20 L35.31,-18.96 L35.11,-18.72 L34.91,-18.47 L34.72,-18.22 L34.53,-17.96 L34.34,-17.70 L34.16,-17.44 L33.99,-17.17 L33.82,-16.90 L33.65,-16.63 L33.49,-16.35 L33.34,-16.07 L33.19,-15.79 L33.05,-15.50 L32.92,-15.21 L32.79,-14.92 L32.66,-14.62 L32.54,-14.32 L32.43,-14.02 L32.32,-13.72 L32.21,-13.41 L32.11,-13.11 L32.02,-12.80 L31.94,-12.49 L31.86,-12.18 L31.80,-11.86 L31.74,-11.54 L31.68,-11.23 L31.63,-10.91 L31.59,-10.58 L31.55,-10.26 L31.52,-9.94 L31.49,-9.62 L31.47,-9.29 L31.46,-8.97 L31.45,-8.65 L31.46,-8.33 L31.47,-8.01 L31.49,-7.68 L31.52,-7.36 L31.55,-7.04 L31.59,-6.72 L31.63,-6.39 L31.68,-6.07 L31.74,-5.76 L31.80,-5.44 L31.86,-5.12 L31.94,-4.81 L32.02,-4.50 L32.11,-4.19 L32.21,-3.89 L32.32,-3.58 L32.43,-3.28 L32.54,-2.98 L32.66,-2.68 L32.79,-2.38 L32.92,-2.09 L33.05,-1.80 L33.19,-1.51 L33.34,-1.23 L33.49,-0.95 L33.65,-0.67 L33.82,-0.40 L33.99,-0.13 L34.16,0.14 L34.34,0.40 L34.53,0.66 L34.72,0.92 L34.91,1.17 L35.11,1.42 L35.31,1.66 L35.51,1.90 L35.72,2.14 L35.94,2.37 L36.16,2.59 L36.39,2.81 L36.62,3.02 L36.86,3.23 L37.09,3.44 L37.32,3.64 L37.56,3.84 L37.79,4.05 L38.01,4.25 L38.24,4.46 L38.56,4.14 L38.35,3.91 L38.14,3.68 L37.93,3.46 L37.72,3.23 L37.51,3.01 L37.30,2.78 L37.09,2.56 L36.89,2.33 L36.69,2.10 L36.50,1.87 L36.32,1.64 L36.15,1.40 L35.98,1.16 L35.82,0.90 L35.66,0.65 L35.51,0.39 L35.36,0.13 L35.22,-0.14 L35.08,-0.40 L34.95,-0.67 L34.82,-0.94 L34.69,-1.21 L34.58,-1.48 L34.47,-1.76 L34.35,-2.03 L34.25,-2.31 L34.15,-2.59 L34.05,-2.87 L33.96,-3.15 L33.88,-3.43 L33.80,-3.72 L33.72,-4.01 L33.65,-4.29 L33.59,-4.58 L33.53,-4.87 L33.48,-5.16 L33.42,-5.44 L33.37,-5.73 L33.32,-6.02 L33.28,-6.31 L33.25,-6.60 L33.22,-6.90 L33.19,-7.19 L33.17,-7.48 L33.16,-7.78 L33.15,-8.07 L33.15,-8.36 L33.15,-8.65 L33.15,-8.94 L33.15,-9.23 L33.16,-9.52 L33.17,-9.82 L33.19,-10.11 L33.22,-10.40 L33.25,-10.70 L33.28,-10.99 L33.32,-11.28 L33.37,-11.57 L33.42,-11.86 L33.48,-12.14 L33.53,-12.43 L33.59,-12.72 L33.65,-13.01 L33.72,-13.29 L33.80,-13.58 L33.88,-13.87 L33.96,-14.15 L34.05,-14.43 L34.15,-14.71 L34.25,-14.99 L34.35,-15.27 L34.47,-15.54 L34.58,-15.82 L34.69,-16.09 L34.82,-16.36 L34.95,-16.63 L35.08,-16.90 L35.22,-17.16 L35.36,-17.43 L35.51,-17.69 L35.66,-17.95 L35.82,-18.20 L35.98,-18.46 L36.15,-18.70 L36.32,-18.94 L36.50,-19.17 L36.69,-19.40 L36.89,-19.63 L37.09,-19.86 L37.30,-20.08 L37.51,-20.31 L37.72,-20.53 L37.93,-20.76 L38.14,-20.98 L38.35,-21.21 L38.56,-21.44Z"/>
<text x="40.2" y="-1.4" font-size="26" font-style="italic">t</text>
<path d="M49.64,-21.44 L49.85,-21.21 L50.06,-20.98 L50.27,-20.76 L50.48,-20.53 L50.69,-20.31 L50.90,-20.08 L51.11,-19.86 L51.31,-19.63 L51.51,-19.40 L51.70,-19.17 L51.88,-18.94 L52.05,-18.70 L52.22,-18.46 L52.38,-18.20 L52.54,-17.95 L52.69,-17.69 L52.84,-17.43 L52.98,-17.16 L53.12,-16.90 L53.25,-16.63 L53.38,-16.36 L53.51,-16.09 L53.62,-15.82 L53.73,-15.54 L53.85,-15.27 L53.95,-14.99 L54.05,-14.71 L54.15,-14.43 L54.24,-14.15 L54.32,-13.87 L54.40,-13.58 L54.48,-13.29 L54.55,-13.01 L54.61,-12.72 L54.67,-12.43 L54.72,-12.14 L54.78,-11.86 L54.83,-11.57 L54.88,-11.28 L54.92,-10.99 L54.95,-10.70 L54.98,-10.40 L55.01,-10.11 L55.03,-9.82 L55.04,-9.52 L55.05,-9.23 L55.05,-8.94 L55.05,-8.65 L55.05,-8.36 L55.05,-8.07 L55.04,-7.78 L55.03,-7.48 L55.01,-7.19 L54.98,-6.90 L54.95,-6.60 L54.92,-6.31 L54.88,-6.02 L54.83,-5.73 L54.78,-5.44 L54.72,-5.16 L54.67,-4.87 L54.61,-4.58 L54.55,-4.29 L54.48,-4.01 L54.40,-3.72 L54.32,-3.43 L54.24,-3.15 L54.15,-2.87 L54.05,-2.59 L53.95,-2.31 L53.85,-2.03 L53.73,-1.76 L53.62,-1.48 L53.51,-1.21 L53.38,-0.94 L53.25,-0.67 L53.12,-0.40 L52.98,-0.14 L52.84,0.13 L52.69,0.39 L52.54,0.65 L52.38,0.90 L52.22,1.16 L52.05,1.40 L51.88,1.64 L51.70,1.87 L51.51,2.10 L51.31,2.33 L51.11,2.56 L50.90,2.78 L50.69,3.01 L50.48,3.23 L50.27,3.46 L50.06,3.68 L49.85,3.91 L49.64,4.14 L49.96,4.46 L50.19,4.25 L50.41,4.05 L50.64,3.84 L50.88,3.64 L51.11,3.44 L51.34,3.23 L51.58,3.02 L51.81,2.81 L52.04,2.59 L52.26,2.37 L52.48,2.14 L52.69,1.90 L52.89,1.66 L53.09,1.42 L53.29,1.17 L53.48,0.92 L53.67,0.66 L53.86,0.40 L54.04,0.14 L54.21,-0.13 L54.38,-0.40 L54.55,-0.67 L54.71,-0.95 L54.86,-1.23 L55.01,-1.51 L55.15,-1.80 L55.28,-2.09 L55.41,-2.38 L55.54,-2.68 L55.66,-2.98 L55.77,-3.28 L55.88,-3.58 L55.99,-3.89 L56.09,-4.19 L56.18,-4.50 L56.26,-4.81 L56.34,-5.12 L56.40,-5.44 L56.46,-5.76 L56.52,-6.07 L56.57,-6.39 L56.61,-6.72 L56.65,-7.04 L56.68,-7.36 L56.71,-7.68 L56.73,-8.01 L56.74,-8.33 L56.75,-8.65 L56.74,-8.97 L56.73,-9.29 L56.71,-9.62 L56.68,-9.94 L56.65,-10.26 L56.61,-10.58 L56.57,-10.91 L56.52,-11.23 L56.46,-11.54 L56.40,-11.86 L56.34,-12.18 L56.26,-12.49 L56.18,-12.80 L56.09,-13.11 L55.99,-13.41 L55.88,-13.72 L55.77,-14.02 L55.66,-14.32 L55.54,-14.62 L55.41,-14.92 L55.28,-15.21 L55.15,-15.50 L55.01,-15.79 L54.86,-16.07 L54.71,-16.35 L54.55,-16.63 L54.38,-16.90 L54.21,-17.17 L54.04,-17.44 L53.86,-17.70 L53.67,-17.96 L53.48,-18.22 L53.29,-18.47 L53.09,-18.72 L52.89,-18.96 L52.69,-19.20 L52.48,-19.44 L52.26,-19.67 L52.04,-19.89 L51.81,-20.11 L51.58,-20.32 L51.34,-20.53 L51.11,-20.74 L50.88,-20.94 L50.64,-21.14 L50.41,-21.35 L50.19,-21.55 L49.96,-21.76Z"/>
</g>
</svg></body></html>
